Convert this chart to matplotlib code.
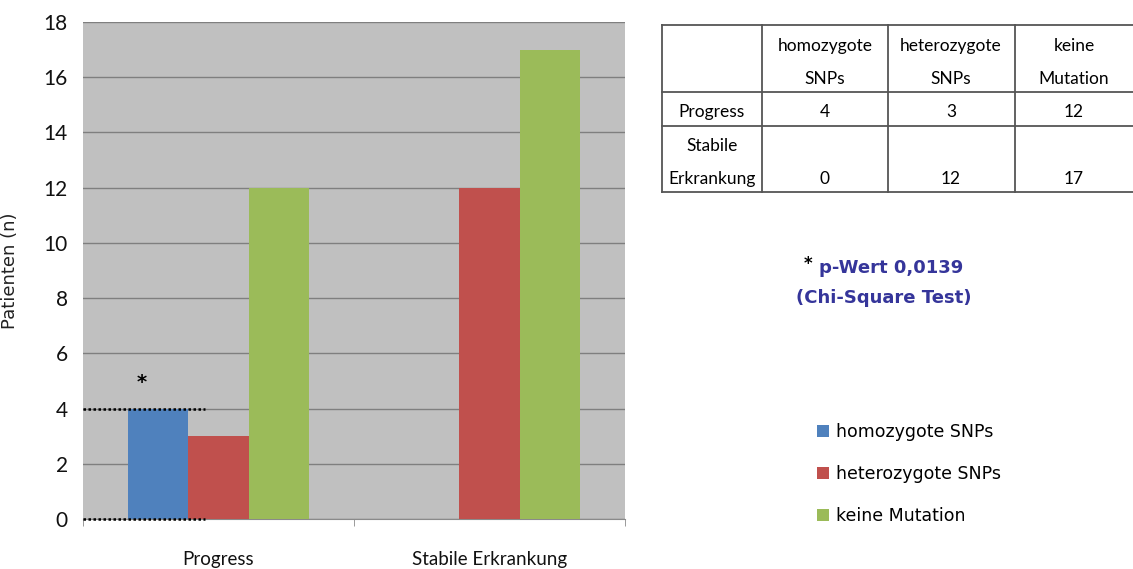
import numpy as np
import matplotlib
matplotlib.use("Agg")
import matplotlib.pyplot as plt

# daten aus der abbildung
gruppen = ["Progress", "Stabile Erkrankung"]
serien = ["homozygote SNPs", "heterozygote SNPs", "keine Mutation"]
homozygot = [4, 0]
heterozygot = [3, 12]
keine_mutation = [12, 17]
farben = ["#4F81BD", "#C0504D", "#9BBB59"]

tabelle_kopf = ["homozygote\nSNPs", "heterozygote\nSNPs", "keine\nMutation"]
tabelle_zeilen = ["Progress", "Stabile\nErkrankung"]
p_wert = "0,0139"

schmal = ["Lato", "DejaVu Sans"]

fig = plt.figure(figsize=(11.33, 5.69), dpi=100)
ax = fig.add_axes([83/1133, 1-519/569, 542/1133, 497/569])
ax.set_facecolor("#C0C0C0")

x = np.arange(len(gruppen))
w = 0.2215
werte = [homozygot, heterozygot, keine_mutation]
for i, (name, v) in enumerate(zip(serien, werte)):
    ax.bar(x + (i - 1) * w, v, width=w, color=farben[i], label=name, zorder=3)

ax.set_xlim(-0.5, 1.5)
ax.set_ylim(0, 18)
ax.set_yticks(range(0, 19, 2))
ax.yaxis.grid(True, color="#7f7f7f", linewidth=1.0, zorder=1)
ax.set_axisbelow(True)
for s in ["top", "right", "left"]:
    ax.spines[s].set_visible(False)
ax.spines["bottom"].set_color("#8a8a8a")
ax.set_xticks(x)
ax.set_xticklabels(gruppen, family=schmal, fontsize=13.5, color="#111111")
ax.set_xticks([-0.5, 0.5, 1.5], minor=True)
ax.tick_params(axis="x", which="major", length=0, pad=23)
ax.tick_params(axis="x", which="minor", length=5, color="#8a8a8a")
ax.tick_params(axis="y", length=0, pad=11)
for t in ax.get_yticklabels():
    t.set_family(schmal)
    t.set_fontsize(15)
    t.set_color("#111111")
ax.set_ylabel("Patienten (n)", fontsize=13, family="DejaVu Sans", color="#222222")
ax.yaxis.set_label_coords(-0.118, 0.5)

# gepunktete linien und stern bei homozygot / Progress
ax.plot([-0.5, -0.05], [homozygot[0], homozygot[0]], ls=(0, (1, 1)), color="black", lw=1.8, zorder=4, clip_on=False)
ax.plot([-0.5, -0.05], [0, 0], ls=(0, (1, 1)), color="black", lw=1.8, zorder=4, clip_on=False)
ax.text(x[0] - w * 1.28, homozygot[0] + 0.95, "*", ha="center", va="center", fontsize=14, fontweight="bold")

# tabelle und text rechts, in pixelkoordinaten
ov = fig.add_axes([0, 0, 1, 1])
ov.set_xlim(0, 1133)
ov.set_ylim(569, 0)
ov.axis("off")
ov.patch.set_alpha(0)

spalten_x = [662, 762, 888, 1015]
zeilen_y = [25, 92, 126, 192]
for yy in zeilen_y:
    ov.plot([662, 1133], [yy, yy], color="#555555", lw=1.3)
for xx in spalten_x:
    ov.plot([xx, xx], [25, 192], color="#555555", lw=1.3)

mitten = [825, 951, 1074]
for cx, kopf in zip(mitten, tabelle_kopf):
    oben, unten = kopf.split("\n")
    ov.text(cx, 46, oben, ha="center", va="center", family=schmal, fontsize=12.5)
    ov.text(cx, 79, unten, ha="center", va="center", family=schmal, fontsize=12.5)

ov.text(712, 112, tabelle_zeilen[0], ha="center", va="center", family=schmal, fontsize=12.5)
z1, z2 = tabelle_zeilen[1].split("\n")
ov.text(712, 146, z1, ha="center", va="center", family=schmal, fontsize=12.5)
ov.text(712, 179, z2, ha="center", va="center", family=schmal, fontsize=12.5)
for j, cx in enumerate(mitten):
    ov.text(cx, 112, str(werte[j][0]), ha="center", va="center", family=schmal, fontsize=12.5)
    ov.text(cx, 179, str(werte[j][1]), ha="center", va="center", family=schmal, fontsize=12.5)

ov.text(808, 264, "*", ha="center", va="center", fontsize=12, fontweight="bold", color="black")
ov.text(891, 268, "p-Wert " + p_wert, ha="center", va="center", fontsize=13, fontweight="bold", color="#35359a")
ov.text(884, 298, "(Chi-Square Test)", ha="center", va="center", fontsize=13, fontweight="bold", color="#35359a")

leg = ax.legend(loc="upper left", bbox_to_anchor=(810/1133, 1-416/569), bbox_transform=fig.transFigure,
                frameon=False, fontsize=12.5, handlelength=0.7, handleheight=0.7, handletextpad=0.4,
                labelspacing=1.38, borderaxespad=0)

fig.savefig("out.png", dpi=100)
